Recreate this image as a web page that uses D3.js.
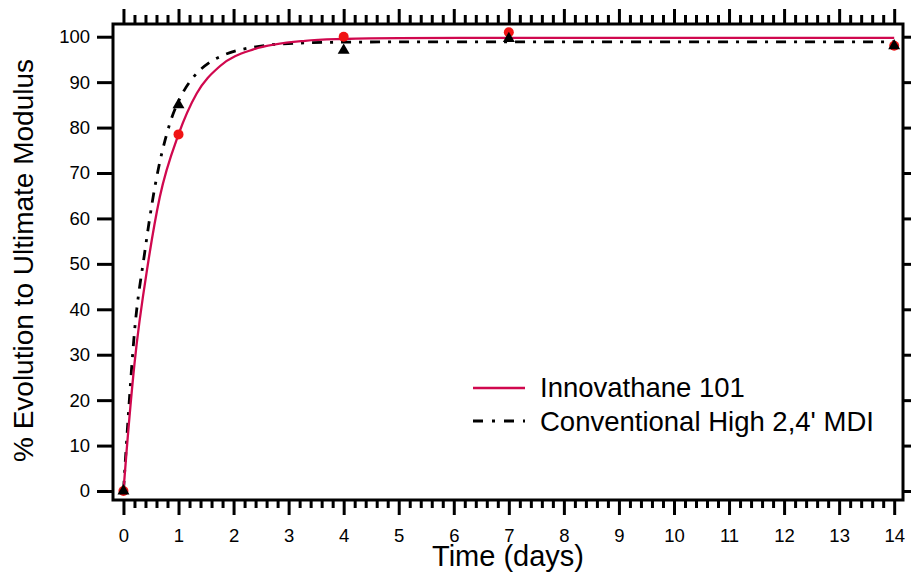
<!DOCTYPE html>
<html>
<head>
<meta charset="utf-8">
<script src="https://cdn.jsdelivr.net/npm/d3@7/dist/d3.min.js"></script>
<style>
    body { margin: 0; background: #fff; }
    text { font-family: "Liberation Sans", Arial, sans-serif; fill: #000; }
</style>
</head>
<body>
<script>
    // measured points
    var days = [0, 1, 4, 7, 14];
    var innovPts = [0, 78.5, 100, 101, 98];
    var convPts = [0, 85, 97, 99.6, 98];

    // fitted curves
    var innovCurveT = [0, 0.055, 0.2, 0.45, 0.66, 1, 1.33, 1.75, 2.36, 3.3, 4, 5, 7, 14];
    var innovCurveV = [0, 8.5, 28, 50.4, 64.7, 78.5, 87.5, 93.5, 97.2, 99.1, 99.5, 99.7, 99.75, 99.75];
    var convCurveT = [0, 0.09, 0.2, 0.38, 0.57, 0.84, 1.085, 1.27, 1.57, 1.81, 2.36, 3.2, 4, 5, 14];
    var convCurveV = [0, 17, 35, 52, 66.9, 80.8, 87.8, 91.1, 94.4, 95.9, 97.7, 98.6, 98.8, 98.85, 98.85];

    var xMajor = d3.range(0, 15, 1);
    var yMajor = d3.range(0, 101, 10);
    var legendNames = ["Innovathane 101", "Conventional High 2,4' MDI"];

    var W = 911, H = 578;
    var pLeft = 113, pRight = 903, pTop = 24, pBottom = 500;

    var svg = d3.select('body').append('svg')
            .attr('width', W)
            .attr('height', H);

    var x = d3.scaleLinear().domain([-0.19, 14.16]).range([pLeft, pRight]);
    var y = d3.scaleLinear().domain([-1.98, 102.8]).range([pBottom, pTop]);

    var xMinor = d3.range(0, 14.001, 0.2).filter(function (d) {
        return Math.abs(d - Math.round(d)) > 0.01;
    });

    function styleAxis(g) {
        g.attr('font-family', null).attr('font-size', null);
        g.select('.domain').remove();
        g.selectAll('.tick line').attr('stroke', '#000').attr('stroke-width', 3);
        g.selectAll('.tick text').style('font-size', '18.5px').attr('fill', '#000');
    }

    // BOTTOM AXIS
    svg.append('g')
            .attr('transform', 'translate(0,' + pBottom + ')')
            .call(d3.axisBottom(x).tickValues(xMajor).tickSize(15).tickPadding(14).tickFormat(d3.format('d')))
            .call(styleAxis);
    svg.append('g')
            .attr('transform', 'translate(0,' + pBottom + ')')
            .call(d3.axisBottom(x).tickValues(xMinor).tickSize(8).tickFormat(''))
            .call(styleAxis);

    // TOP AXIS (no labels)
    svg.append('g')
            .attr('transform', 'translate(0,' + pTop + ')')
            .call(d3.axisTop(x).tickValues(xMajor).tickSize(15).tickFormat(''))
            .call(styleAxis);
    svg.append('g')
            .attr('transform', 'translate(0,' + pTop + ')')
            .call(d3.axisTop(x).tickValues(xMinor).tickSize(9).tickFormat(''))
            .call(styleAxis);

    // LEFT AXIS
    svg.append('g')
            .attr('transform', 'translate(' + pLeft + ',0)')
            .call(d3.axisLeft(y).tickValues(yMajor).tickSize(16).tickPadding(7))
            .call(styleAxis);

    // RIGHT AXIS
    svg.append('g')
            .attr('transform', 'translate(' + pRight + ',0)')
            .call(d3.axisRight(y).tickValues(yMajor).tickSize(15).tickFormat(''))
            .call(styleAxis);

    // FRAME
    svg.append('rect')
            .attr('x', pLeft).attr('y', pTop)
            .attr('width', pRight - pLeft).attr('height', pBottom - pTop)
            .attr('fill', 'none').attr('stroke', '#000').attr('stroke-width', 3);

    // CURVES
    var line = d3.line()
            .x(function (d) { return x(d[0]); })
            .y(function (d) { return y(d[1]); })
            .curve(d3.curveMonotoneX);

    svg.append('path')
            .attr('d', line(d3.zip(convCurveT, convCurveV)))
            .attr('fill', 'none').attr('stroke', '#000')
            .attr('stroke-width', 2.8).attr('stroke-dasharray', '10,8,3,8');

    svg.append('path')
            .attr('d', line(d3.zip(innovCurveT, innovCurveV)))
            .attr('fill', 'none').attr('stroke', '#d0084e')
            .attr('stroke-width', 2.3);

    // MARKERS
    svg.selectAll('.dot')
            .data(d3.zip(days, innovPts))
            .enter().append('circle')
            .attr('class', 'dot')
            .attr('cx', function (d) { return x(d[0]); })
            .attr('cy', function (d) { return y(d[1]); })
            .attr('r', 5)
            .attr('fill', '#f01414');

    var tri = d3.symbol().type(d3.symbolTriangle).size(62);
    svg.selectAll('.tri')
            .data(d3.zip(days, convPts))
            .enter().append('path')
            .attr('class', 'tri')
            .attr('d', tri)
            .attr('transform', function (d) { return 'translate(' + x(d[0]) + ',' + y(d[1]) + ')'; })
            .attr('fill', '#000');

    // LEGEND
    var legend = svg.append('g');
    legend.append('line')
            .attr('x1', 473).attr('x2', 525).attr('y1', 388).attr('y2', 388)
            .attr('stroke', '#d0084e').attr('stroke-width', 2.3);
    legend.append('line')
            .attr('x1', 473).attr('x2', 525).attr('y1', 421).attr('y2', 421)
            .attr('stroke', '#000').attr('stroke-width', 2.8).attr('stroke-dasharray', '10,9,3,9');
    legend.selectAll('text')
            .data(legendNames)
            .enter().append('text')
            .attr('x', 540)
            .attr('y', function (d, i) { return 397 + i * 33.5; })
            .style('font-size', '27.5px')
            .text(function (d) { return d; });

    // AXIS TITLES
    svg.append('text')
            .attr('x', 508).attr('y', 566)
            .attr('text-anchor', 'middle')
            .style('font-size', '29px')
            .text('Time (days)');

    svg.append('text')
            .attr('transform', 'translate(33,260.5) rotate(-90)')
            .attr('text-anchor', 'middle')
            .style('font-size', '28px')
            .text('% Evolution to Ultimate Modulus');
</script>
</body>
</html>
